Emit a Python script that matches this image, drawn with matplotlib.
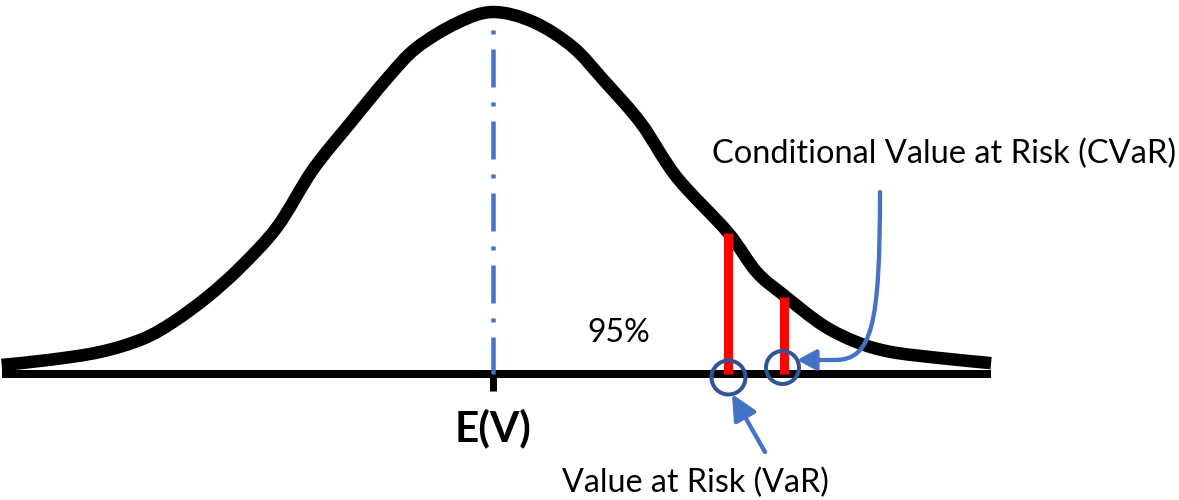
import matplotlib
matplotlib.use("Agg")
import matplotlib.pyplot as plt
from matplotlib.patches import FancyArrowPatch, PathPatch
from matplotlib.path import Path

# ---------------- data ----------------
curve_x = [-2.89, -2.61, -2.31, -2.06, -1.88, -1.68, -1.49, -1.27, -1.06, -0.84,
           -0.62, -0.45, -0.21, 0.0, 0.24, 0.47, 0.65, 0.87, 1.08, 1.38,
           1.55, 1.71, 1.94, 2.14, 2.34, 2.63, 2.93]
curve_y = [0.025, 0.039, 0.061, 0.097, 0.144, 0.213, 0.293, 0.406, 0.564, 0.693,
           0.818, 0.901, 0.970, 1.0, 0.972, 0.903, 0.812, 0.693, 0.544, 0.392,
           0.282, 0.218, 0.135, 0.088, 0.061, 0.044, 0.030]
mean_x = 0.0
risk_x = [1.38, 1.71]          # VaR, CVaR
risk_h = [0.389, 0.213]
mean_label = "E(V)"
conf_label = "95%"
var_label = "Value at Risk (VaR)"
cvar_label = "Conditional Value at Risk (CVaR)"

# ---------------- figure ----------------
W, H = 1179, 500
plt.rcParams['font.family'] = ['Lato', 'DejaVu Sans']
plt.rcParams['lines.scale_dashes'] = False
fig = plt.figure(figsize=(W / 100, H / 100), dpi=100)
ax = fig.add_axes([0, 0, 1, 1])
ax.set_xlim(-493 / 170, (W - 493) / 170)
ax.set_ylim((374 - H) / 362, 374 / 362)
ax.axis('off')

def px(x, y):
    """pixel position -> axes fraction"""
    return (x / W, 1 - y / H)

PT = 0.72  # points per pixel

# baseline
ax.plot([curve_x[0], curve_x[-1]], [0, 0], color='black', lw=8 * PT,
        solid_capstyle='butt', zorder=2)
# tick at mean
ax.plot([mean_x, mean_x], [0, -0.047], color='black', lw=7 * PT,
        solid_capstyle='butt', zorder=2)
# mean dash-dot line
ax.plot([mean_x, mean_x], [1.0 + 2 / 362, 0], color='#4472C4', lw=4.5 * PT,
        linestyle=(33 * PT, (38 * PT, 15 * PT, 4 * PT, 15 * PT)),
        dash_capstyle='butt', zorder=3)

# distribution curve: smooth path through the read points (Catmull-Rom -> Bezier)
pts = list(zip(curve_x, curve_y))
verts = [pts[0]]
codes = [Path.MOVETO]
n = len(pts)
for i in range(n - 1):
    p0 = pts[i - 1] if i > 0 else pts[i]
    p1 = pts[i]
    p2 = pts[i + 1]
    p3 = pts[i + 2] if i + 2 < n else pts[i + 1]
    c1 = (p1[0] + (p2[0] - p0[0]) / 6, p1[1] + (p2[1] - p0[1]) / 6)
    c2 = (p2[0] - (p3[0] - p1[0]) / 6, p2[1] - (p3[1] - p1[1]) / 6)
    verts += [c1, c2, p2]
    codes += [Path.CURVE4] * 3
curve = PathPatch(Path(verts, codes), facecolor='none', edgecolor='black',
                  lw=12.5 * PT, capstyle='butt', joinstyle='round', zorder=4)
ax.add_patch(curve)

# red bars
ax.vlines(risk_x, 0, risk_h, color='#FF0000', lw=9 * PT, zorder=5)
# circles
ax.plot([risk_x[0]], [-0.008], marker='o', ms=34 * PT, mfc='none',
        mec='#2F5597', mew=4 * PT, zorder=6, linestyle='none')
ax.plot([risk_x[1] - 0.01], [0.019], marker='o', ms=33 * PT, mfc='none',
        mec='#2F5597', mew=4 * PT, zorder=6, linestyle='none')

# CVaR arrow (curved)
averts = [px(880, 192), px(880, 325), px(872, 360), px(835, 360), px(797, 360)]
acodes = [Path.MOVETO, Path.CURVE4, Path.CURVE4, Path.CURVE4, Path.LINETO]
arr1 = FancyArrowPatch(path=Path(averts, acodes), transform=ax.transAxes,
                       arrowstyle='-|>,head_length=1.15,head_width=0.62',
                       mutation_scale=10, color='#4472C4', lw=4.3 * PT,
                       zorder=7)
ax.add_patch(arr1)
# VaR arrow (straight)
arr2 = FancyArrowPatch(posA=px(765, 452), posB=px(732, 394),
                       transform=ax.transAxes,
                       arrowstyle='-|>,head_length=1.55,head_width=0.75',
                       mutation_scale=10, color='#4472C4', lw=4.3 * PT,
                       shrinkA=0, shrinkB=0, zorder=7)
ax.add_patch(arr2)

# texts
t_cvar = ax.text(*px(712, 163), cvar_label, transform=ax.transAxes,
                 ha='left', va='baseline', fontsize=22, color='black')
t_var = ax.text(*px(562, 492), var_label, transform=ax.transAxes,
                ha='left', va='baseline', fontsize=22, color='black')
t_conf = ax.text(*px(587, 342), conf_label, transform=ax.transAxes,
                 ha='left', va='baseline', fontsize=24, color='black')
t_mean = ax.text(*px(493, 441), mean_label, transform=ax.transAxes,
                 ha='center', va='baseline', fontsize=30, fontweight='bold',
                 color='black')

renderer = fig.canvas.get_renderer()
for t, target in [(t_cvar, 463), (t_var, 265), (t_conf, 63), (t_mean, 77)]:
    w = t.get_window_extent(renderer).width
    t.set_fontsize(t.get_fontsize() * target / w)

fig.savefig('out.png', dpi=100, facecolor='white')
